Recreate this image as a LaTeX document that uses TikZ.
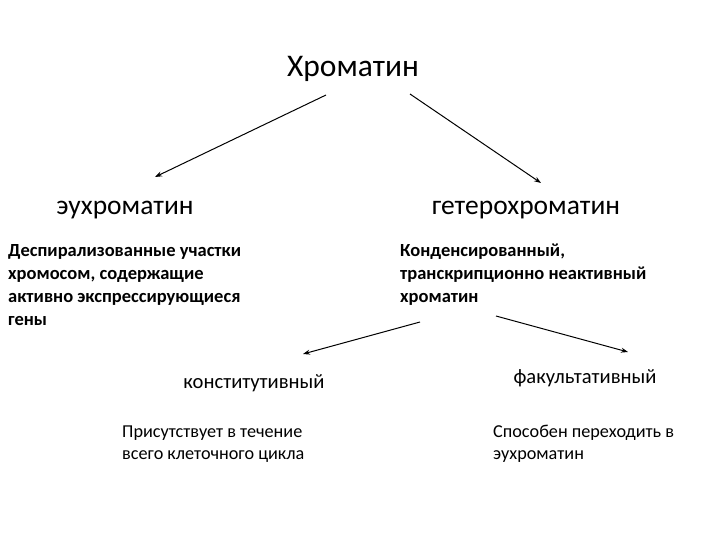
\documentclass[tikz,border=0pt]{standalone}
\usepackage{fontspec}
\setmainfont{Carlito}
\usetikzlibrary{arrows.meta}
\begin{document}
\begin{tikzpicture}[x=1pt,y=-1pt,
  big/.style={font=\fontsize{27.5}{32}\selectfont, inner sep=0pt},
  mid/.style={font=\fontsize{20.6}{24}\selectfont, inner sep=0pt},
  para/.style={font=\fontsize{18.5}{23}\selectfont\bfseries, align=left, anchor=north west, inner sep=0pt},
  small/.style={font=\fontsize{18.2}{22}\selectfont, align=left, anchor=north west, inner sep=0pt},
  arr/.style={draw, line width=1pt, -{Stealth[length=7pt,width=5pt]}}]
\useasboundingbox (0,0) rectangle (720,540);
\node[big,font=\fontsize{31.5}{36}\selectfont] (chrom) at (353,69) {Хроматин};
\node[big] (eu) at (125,210) {эухроматин};
\node[big] (het) at (526,210) {гетерохроматин};
\node[para] (eudesc) at (8,240.5) {\strut Деспирализованные участки\\хромосом, содержащие\\активно экспрессирующиеся\\гены};
\node[para] (hetdesc) at (400,240.5) {\strut Конденсированный,\\транскрипционно неактивный\\хроматин};
\node[mid] (const) at (254,383) {конститутивный};
\node[mid] (fac) at (585,378) {факультативный};
\node[small] (constdesc) at (122,426) {Присутствует в течение\\всего клеточного цикла};
\node[small] (facdesc) at (493,425) {Способен переходить в\\эухроматин};
\coordinate (a1s) at (326,95); \coordinate (a1e) at (155,177);
\coordinate (a2s) at (410,94); \coordinate (a2e) at (541,183);
\coordinate (a3s) at (420,322); \coordinate (a3e) at (303,354);
\coordinate (a4s) at (496,316); \coordinate (a4e) at (628,352);
\draw[arr] (a1s) -- (a1e);
\draw[arr] (a2s) -- (a2e);
\draw[arr] (a3s) -- (a3e);
\draw[arr] (a4s) -- (a4e);
\end{tikzpicture}
\end{document}
